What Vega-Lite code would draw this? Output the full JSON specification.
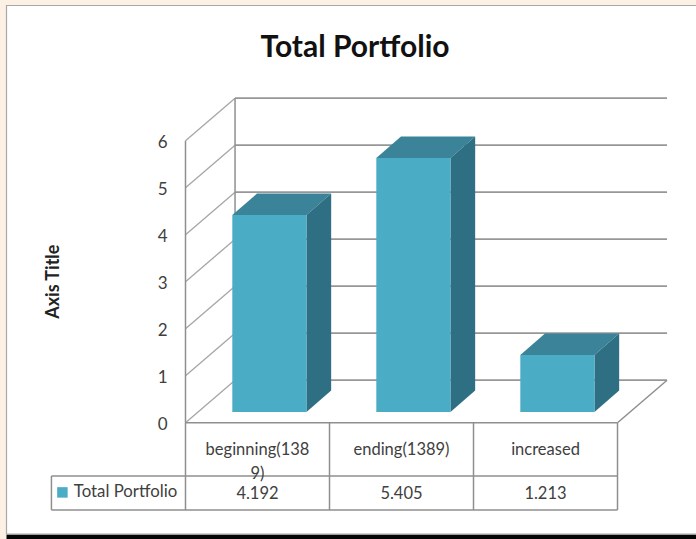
{
"$schema":"https://vega.github.io/schema/vega-lite/v6.json",
"width":696,"height":539,"padding":0,"autosize":{"type":"none"},
"background":"#fdf0e4",
"view":{"stroke":null},
"title":{"text":"Total Portfolio","font":"Lato","fontSize":30,"fontWeight":"bold","color":"#111111","anchor":"middle","dx":7,"dy":30,"offset":-57,"baseline":"alphabetic"},
"datasets":{
"rows":[
{"i":0,"category":"beginning(138\n9)","value":4.192,"series":"Total Portfolio"},
{"i":1,"category":"ending(1389)","value":5.405,"series":"Total Portfolio"},
{"i":2,"category":"increased","value":1.213,"series":"Total Portfolio"}],
"ticks":[{"tick":0},{"tick":1},{"tick":2},{"tick":3},{"tick":4},{"tick":5},{"tick":6}],
"edges":[
{"xa":0,"ya":0,"xb":0,"yb":6},
{"xa":0.344,"ya":0.904,"xb":0.344,"yb":6.904},
{"xa":0,"ya":0,"xb":3,"yb":0},
{"xa":3,"ya":0,"xb":3.344,"yb":0.904},
{"xa":-0.931,"ya":-1.134,"xb":3,"yb":-1.134},
{"xa":-0.931,"ya":-1.857,"xb":3,"yb":-1.857},
{"xa":-0.931,"ya":-1.134,"xb":-0.931,"yb":-1.857},
{"xa":0,"ya":0,"xb":0,"yb":-1.857},
{"xa":1,"ya":0,"xb":1,"yb":-1.857},
{"xa":2,"ya":0,"xb":2,"yb":-1.857},
{"xa":3,"ya":0,"xb":3,"yb":-1.857}]
},
"layer":[
{"data":{"values":[{"xa":-1.243,"xb":3.6,"ya":8.877,"yb":-2.368}]},
 "mark":{"type":"rect","fill":"#ffffff","stroke":"#a8a8a8","strokeWidth":1.2,"clip":false},
 "encoding":{
 "x":{"field":"xa","type":"quantitative","scale":{"domain":[-1.2882,3.5451],"nice":false,"zero":false},"axis":null},
 "x2":{"field":"xb"},
 "y":{"field":"ya","type":"quantitative","scale":{"domain":[-2.4745,8.9936],"nice":false,"zero":false},"axis":null},
 "y2":{"field":"yb"}}},
{"data":{"values":[{"xa":-1.243,"xb":3.6,"ya":-2.385,"yb":-2.4745}]},
 "mark":{"type":"rect","fill":"#050505"},
 "encoding":{
 "x":{"field":"xa","type":"quantitative","scale":{"domain":[-1.2882,3.5451],"nice":false,"zero":false},"axis":null},
 "x2":{"field":"xb"},
 "y":{"field":"ya","type":"quantitative","scale":{"domain":[-2.4745,8.9936],"nice":false,"zero":false},"axis":null},
 "y2":{"field":"yb"}}},
{"data":{"name":"ticks"},
 "transform":[{"calculate":"0","as":"xa"},{"calculate":"0.344","as":"xb"},{"calculate":"datum.tick+0.904","as":"yb"}],
 "mark":{"type":"rule","color":"#a6a6a6","strokeWidth":1.3},
 "encoding":{
 "x":{"field":"xa","type":"quantitative","scale":{"domain":[-1.2882,3.5451],"nice":false,"zero":false},"axis":null},
 "x2":{"field":"xb"},
 "y":{"field":"tick","type":"quantitative","scale":{"domain":[-2.4745,8.9936],"nice":false,"zero":false},"axis":null},
 "y2":{"field":"yb"}}},
{"data":{"name":"ticks"},
 "transform":[{"calculate":"0.344","as":"xa"},{"calculate":"3.344","as":"xb"},{"calculate":"datum.tick+0.904","as":"ya"}],
 "mark":{"type":"rule","color":"#979797","strokeWidth":1.7},
 "encoding":{
 "x":{"field":"xa","type":"quantitative","scale":{"domain":[-1.2882,3.5451],"nice":false,"zero":false},"axis":null},
 "x2":{"field":"xb"},
 "y":{"field":"ya","type":"quantitative","scale":{"domain":[-2.4745,8.9936],"nice":false,"zero":false},"axis":null}}},
{"data":{"name":"edges"},
 "mark":{"type":"rule","color":"#8f8f8f","strokeWidth":1.5},
 "encoding":{
 "x":{"field":"xa","type":"quantitative","scale":{"domain":[-1.2882,3.5451],"nice":false,"zero":false},"axis":null},
 "x2":{"field":"xb"},
 "y":{"field":"ya","type":"quantitative","scale":{"domain":[-2.4745,8.9936],"nice":false,"zero":false},"axis":null},
 "y2":{"field":"yb"}}},
{"data":{"name":"rows"},
 "transform":[{"calculate":"[0,1,2,3]","as":"corner"},{"flatten":["corner"]},
  {"calculate":"datum.i+0.325+[0,0.1715,0.515,0.6865][datum.corner]","as":"px"},
  {"calculate":"datum.value+0.228+[0,0.4553,0.4553,0.4553][datum.corner]","as":"pa"},
  {"calculate":"datum.value+0.228+[0,0,0,0.4553][datum.corner]","as":"pb"}],
 "mark":{"type":"area","fill":"#3a8399","orient":"vertical","interpolate":"linear"},
 "encoding":{
 "detail":{"field":"category"},
 "x":{"field":"px","type":"quantitative","scale":{"domain":[-1.2882,3.5451],"nice":false,"zero":false},"axis":null},
 "y":{"field":"pa","type":"quantitative","scale":{"domain":[-2.4745,8.9936],"nice":false,"zero":false},"axis":null},
 "y2":{"field":"pb"}}},
{"data":{"name":"rows"},
 "transform":[{"calculate":"[0,1]","as":"corner"},{"flatten":["corner"]},
  {"calculate":"datum.i+0.84+0.1715*datum.corner","as":"px"},
  {"calculate":"datum.value+0.228+0.4553*datum.corner","as":"pa"},
  {"calculate":"0.228+0.4553*datum.corner","as":"pb"}],
 "mark":{"type":"area","fill":"#2f6f84","orient":"vertical","interpolate":"linear"},
 "encoding":{
 "detail":{"field":"category"},
 "x":{"field":"px","type":"quantitative","scale":{"domain":[-1.2882,3.5451],"nice":false,"zero":false},"axis":null},
 "y":{"field":"pa","type":"quantitative","scale":{"domain":[-2.4745,8.9936],"nice":false,"zero":false},"axis":null},
 "y2":{"field":"pb"}}},
{"data":{"name":"rows"},
 "transform":[{"calculate":"datum.i+0.325","as":"xa"},{"calculate":"datum.i+0.84","as":"xb"},{"calculate":"datum.value+0.228","as":"ya"},{"calculate":"0.228","as":"yb"}],
 "mark":{"type":"rect"},
 "encoding":{
 "color":{"field":"series","type":"nominal","scale":{"range":["#4bacc6"]},
  "legend":{"orient":"none","legendX":54,"legendY":484,"title":null,"symbolType":"square","symbolSize":110,"symbolStrokeWidth":0,"labelFont":"Lato","labelFontSize":16.8,"labelColor":"#404040","labelOffset":3}},
 "x":{"field":"xa","type":"quantitative","scale":{"domain":[-1.2882,3.5451],"nice":false,"zero":false},"axis":null},
 "x2":{"field":"xb"},
 "y":{"field":"ya","type":"quantitative","scale":{"domain":[-2.4745,8.9936],"nice":false,"zero":false},"axis":null},
 "y2":{"field":"yb"}}},
{"data":{"name":"rows"},
 "transform":[{"calculate":"datum.i+0.5","as":"xc"},{"calculate":"-0.687","as":"yc"}],
 "mark":{"type":"text","font":"Lato","fontSize":16.5,"color":"#404040","align":"center","baseline":"alphabetic","lineBreak":"\n","lineHeight":24},
 "encoding":{
 "text":{"field":"category"},
 "x":{"field":"xc","type":"quantitative","scale":{"domain":[-1.2882,3.5451],"nice":false,"zero":false},"axis":null},
 "y":{"field":"yc","type":"quantitative","scale":{"domain":[-2.4745,8.9936],"nice":false,"zero":false},"axis":null}}},
{"data":{"name":"rows"},
 "transform":[{"calculate":"datum.i+0.5","as":"xc"},{"calculate":"-1.613","as":"yc"}],
 "mark":{"type":"text","font":"Lato","fontSize":16.5,"color":"#404040","align":"center","baseline":"alphabetic"},
 "encoding":{
 "text":{"field":"value","type":"quantitative","format":".3f"},
 "x":{"field":"xc","type":"quantitative","scale":{"domain":[-1.2882,3.5451],"nice":false,"zero":false},"axis":null},
 "y":{"field":"yc","type":"quantitative","scale":{"domain":[-2.4745,8.9936],"nice":false,"zero":false},"axis":null}}},
{"data":{"name":"ticks"},
 "transform":[{"calculate":"0","as":"xa"}],
 "mark":{"type":"text","font":"Lato","fontSize":17,"color":"#404040","align":"right","baseline":"alphabetic","dx":-18,"dy":7},
 "encoding":{
 "text":{"field":"tick","type":"quantitative","format":"d"},
 "x":{"field":"xa","type":"quantitative","scale":{"domain":[-1.2882,3.5451],"nice":false,"zero":false},"axis":null},
 "y":{"field":"tick","type":"quantitative","scale":{"domain":[-2.4745,8.9936],"nice":false,"zero":false},"axis":null}}},
{"data":{"values":[{"label":"Axis Title","xa":-0.878,"ya":3}]},
 "mark":{"type":"text","font":"Lato","fontSize":18,"fontWeight":"bold","color":"#222222","align":"center","baseline":"alphabetic","angle":270},
 "encoding":{
 "text":{"field":"label"},
 "x":{"field":"xa","type":"quantitative","scale":{"domain":[-1.2882,3.5451],"nice":false,"zero":false},"axis":null},
 "y":{"field":"ya","type":"quantitative","scale":{"domain":[-2.4745,8.9936],"nice":false,"zero":false},"axis":null}}}
]
}
